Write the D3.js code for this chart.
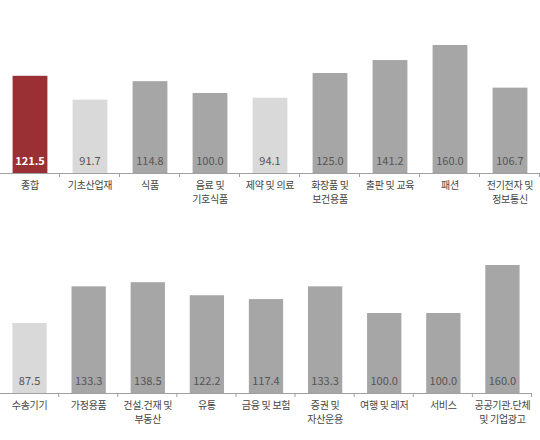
<!DOCTYPE html>
<html>
<head>
<meta charset="utf-8">
<script src="https://cdn.jsdelivr.net/npm/d3@7"></script>
<style>
  body { margin: 0; background: #fff; }
  text { font-family: "Noto Sans CJK KR", "Liberation Sans", sans-serif; }
</style>
</head>
<body>
<script>
let topCategories = ['종합', '기초산업재', '식품', '음료 및|기호식품', '제약 및 의료', '화장품 및|보건용품', '출판 및 교육', '패션', '전기전자 및|정보통신'];
let topValues = [121.5, 91.7, 114.8, 100.0, 94.1, 125.0, 141.2, 160.0, 106.7];

let bottomCategories = ['수송기기', '가정용품', '건설.건재 및|부동산', '유통', '금융 및 보험', '증권 및|자산운용', '여행 및 레저', '서비스', '공공기관.단체|및 기업광고'];
let bottomValues = [87.5, 133.3, 138.5, 122.2, 117.4, 133.3, 100.0, 100.0, 160.0];

let svg = d3.select('body')
  .append('svg')
  .attr('width', 540)
  .attr('height', 440);

let dark = '#9b3034';
let light = '#d9d9d9';
let mid = '#a6a6a6';

drawPanel(topCategories, topValues, 173, 540, true);
drawPanel(bottomCategories, bottomValues, 393, 532, false);

function drawPanel(categories, values, baseY, rightX, firstRed) {
  let x = d3.scaleBand()
    .domain(d3.range(categories.length))
    .range([0, rightX])
    .paddingInner(0.42)
    .paddingOuter(0.21);

  let y = d3.scaleLinear()
    .domain([0, 200])
    .range([baseY, baseY - 160]);

  let g = svg.append('g');

  let color = (v, i) => {
    if (firstRed && i === 0) return dark;
    return v < 100 ? light : mid;
  };

  g.selectAll('rect').data(values)
    .enter().append('rect')
    .attr('x', (d, i) => x(i))
    .attr('y', d => y(d))
    .attr('width', x.bandwidth())
    .attr('height', d => y(0) - y(d))
    .attr('fill', (d, i) => color(d, i));

  // axis line with ticks between categories
  let step = x.step();
  let start = x(0) - step * x.paddingOuter();
  g.append('line')
    .attr('x1', 0).attr('x2', rightX)
    .attr('y1', baseY + 0.5).attr('y2', baseY + 0.5)
    .attr('stroke', '#a0a0a0')
    .attr('stroke-width', 1);

  g.selectAll('.tick').data(d3.range(categories.length + 1))
    .enter().append('line')
    .attr('class', 'tick')
    .attr('x1', i => Math.min(start + i * step, rightX) - 0.5)
    .attr('x2', i => Math.min(start + i * step, rightX) - 0.5)
    .attr('y1', baseY)
    .attr('y2', baseY + 4)
    .attr('stroke', '#a0a0a0');

  // value labels inside bars
  g.selectAll('.val').data(values)
    .enter().append('text')
    .attr('class', 'val')
    .attr('x', (d, i) => x(i) + x.bandwidth() / 2)
    .attr('y', baseY - 8)
    .attr('text-anchor', 'middle')
    .attr('font-size', 11)
    .attr('font-family', '"Liberation Sans Narrow", "Liberation Sans", sans-serif')
    .attr('font-weight', (d, i) => firstRed && i === 0 ? 'bold' : 'normal')
    .attr('fill', (d, i) => firstRed && i === 0 ? '#fff' : '#555')
    .text(d => d.toFixed(1));

  // category labels, up to two lines
  let labels = g.selectAll('.cat').data(categories)
    .enter().append('text')
    .attr('class', 'cat')
    .attr('text-anchor', 'middle')
    .attr('font-size', 10)
    .attr('letter-spacing', -0.3)
    .attr('fill', '#444');

  labels.selectAll('tspan')
    .data((d, i) => d.split('|').map(s => ({ s: s, i: i })))
    .enter().append('tspan')
    .attr('x', d => x(d.i) + x.bandwidth() / 2)
    .attr('y', (d, j) => baseY + 16 + j * 14)
    .text(d => d.s);
}
</script>
</body>
</html>
